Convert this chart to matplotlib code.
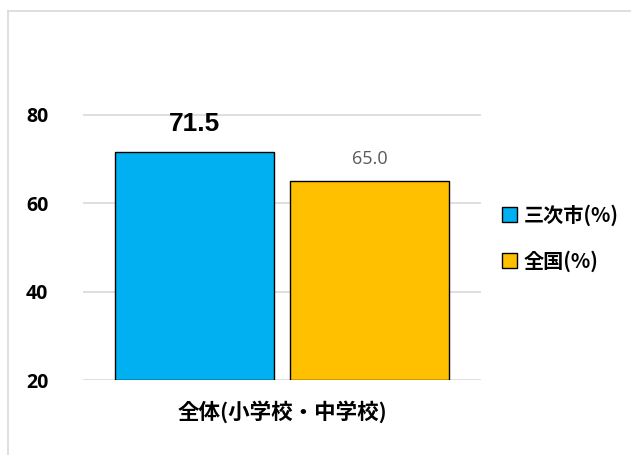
import matplotlib
matplotlib.use("Agg")
import matplotlib.pyplot as plt
from matplotlib.lines import Line2D
from matplotlib.patches import Patch

plt.rcParams['font.family'] = ['Noto Sans CJK JP', 'DejaVu Sans']

# data
category = '全体(小学校・中学校)'
series = ['三次市(%)', '全国(%)']
values = [71.5, 65.0]
colors = ['#00B0F0', '#FFC000']
yticks = [20, 40, 60, 80]

W, H = 631, 455
fig = plt.figure(figsize=(W / 100, H / 100), dpi=100)
# axes: y=20 at px 380, y=95 at px ~48
ax = fig.add_axes([83 / W, 1 - 380 / H, 398 / W, 331.6 / H])

offsets = [-0.22, 0.22]
bar_w = 0.40
for i in range(len(values)):
    ax.bar(offsets[i], values[i] - 20, bottom=20, width=bar_w, color=colors[i],
           edgecolor='black', linewidth=1.0, zorder=3)

ax.set_xlim(-0.5, 0.5)
ax.set_ylim(20, 95)

ax.set_yticks(yticks)
ax.set_yticklabels([str(t) for t in yticks], fontsize=14, fontweight='bold',
                   family=['Open Sans', 'DejaVu Sans'])
ax.tick_params(axis='y', length=0, pad=25)
ax.set_xticks([])
ax.yaxis.grid(True, color='#D9D9D9', linewidth=1.2, zorder=0)
for s in ax.spines.values():
    s.set_visible(False)

# data labels
ax.text(offsets[0], values[0] + 3.6, '71.5', ha='center', va='bottom',
        fontsize=19, fontweight='bold', family=['Liberation Sans'], color='black')
ax.text(offsets[1], values[1] + 2.9, '65.0', ha='center', va='bottom',
        fontsize=13, family=['Open Sans', 'DejaVu Sans'], color='#595959')

fig.text(282 / W, 1 - 412 / H, category, ha='center', va='center',
         fontsize=15.5, fontweight='bold')

handles = [Patch(facecolor=colors[i], edgecolor='black', linewidth=1.0)
           for i in range(len(series))]
leg = fig.legend(handles, series, loc='center left',
                 bbox_to_anchor=(484 / W, 1 - 238 / H), frameon=False,
                 handlelength=0.75, handleheight=0.75, handletextpad=0.3,
                 labelspacing=1.2, prop={'weight': 'bold', 'size': 14.5})

# outer border lines
fig.add_artist(Line2D([8 / W, 1], [1 - 11 / H, 1 - 11 / H], color='#D9D9D9', linewidth=1.2))
fig.add_artist(Line2D([8 / W, 8 / W], [0, 1 - 11 / H], color='#D9D9D9', linewidth=1.2))

fig.savefig('out.png', dpi=100)
